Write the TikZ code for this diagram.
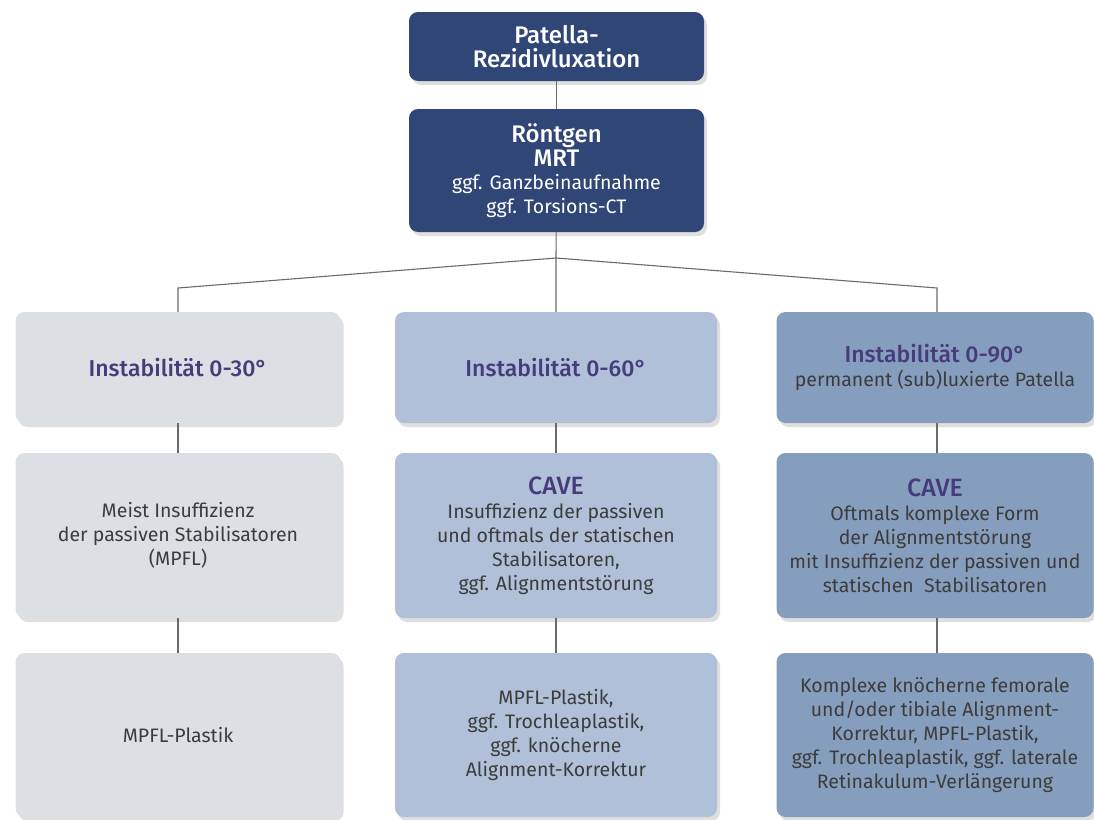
\documentclass[tikz,border=0pt]{standalone}
\usepackage{fontspec}
\setmainfont{Fira Sans}
\newfontfamily\medfam{Fira Sans Medium}
\usetikzlibrary{shadows}
\definecolor{navy}{HTML}{2F4677}
\definecolor{paleg}{HTML}{DCE0E4}
\definecolor{paleb}{HTML}{B0C0D8}
\definecolor{steel}{HTML}{859EBE}
\definecolor{titlecol}{HTML}{463C7C}
\definecolor{bodycol}{HTML}{3C3C3C}
\definecolor{linecol}{HTML}{6A6A6A}
\newcommand{\headfont}{\medfam\fontsize{24}{23.5}\selectfont}
\newcommand{\subfont}{\normalfont\fontsize{19.5}{23.5}\selectfont}
\newcommand{\titlefont}{\medfam\fontsize{23}{25}\selectfont\color{titlecol}}
\newcommand{\cavefont}{\medfam\fontsize{25}{25}\selectfont\color{titlecol}}
\newcommand{\bodyfont}{\fontsize{19.5}{24}\selectfont}

\begin{document}
\begin{tikzpicture}[x=1pt,y=-1pt]
\tikzstyle{box}=[rounded corners=9pt,align=center,inner sep=2pt,drop shadow={opacity=0.25,shadow xshift=3pt,shadow yshift=-4pt}]
\tikzstyle{navybox}=[box,fill=navy,text=white,minimum width=295pt,font=\headfont]
\tikzstyle{greybox}=[box,fill=paleg,text=bodycol,minimum width=325pt,font=\bodyfont]
\tikzstyle{lightbox}=[box,fill=paleb,text=bodycol,minimum width=322pt,font=\bodyfont]
\tikzstyle{steelbox}=[box,fill=steel,text=bodycol,minimum width=317pt,font=\bodyfont]
\tikzstyle{conn}=[draw=linecol,line width=1.1pt]
\useasboundingbox (0,0) rectangle (1094,819);
% top
\node[navybox,minimum height=69pt] (P) at (556.5,46.5) {Patella-\\Rezidivluxation};
\node[navybox,minimum height=123pt] (R) at (556.5,170.5) {Röntgen\\MRT\\\subfont ggf. Ganzbeinaufnahme\\\subfont ggf. Torsions-CT};
% row 1
\node[greybox,minimum height=111pt] (I_1) at (178,367.5) {\titlefont Instabilität 0-30°};
\node[lightbox,minimum height=111pt] (I_2) at (556,367.5) {\titlefont Instabilität 0-60°};
\node[steelbox,minimum height=111pt] (I_3) at (935,367.5) {\titlefont Instabilität 0-90°\\permanent (sub)luxierte Patella};
% row 2
\node[greybox,minimum height=165pt] (D_1) at (178,535.5) {Meist Insuffizienz\\der passiven Stabilisatoren\\(MPFL)};
\node[lightbox,minimum height=165pt] (D_2) at (556,535.5) {\cavefont CAVE\\Insuffizienz der passiven\\und oftmals der statischen\\Stabilisatoren,\\ggf. Alignmentstörung};
\node[steelbox,minimum height=165pt] (D_3) at (935,535.5) {\cavefont CAVE\\Oftmals komplexe Form\\der Alignmentstörung\\mit Insuffizienz der passiven und\\statischen\ \ Stabilisatoren};
% row 3
\node[greybox,minimum height=164pt] (T_1) at (178,735) {MPFL-Plastik};
\node[lightbox,minimum height=164pt] (T_2) at (556,735) {MPFL-Plastik,\\ggf. Trochleaplastik,\\ggf. knöcherne\\Alignment-Korrektur};
\node[steelbox,minimum height=164pt] (T_3) at (935,735) {Komplexe knöcherne femorale\\und/oder tibiale Alignment-\\Korrektur, MPFL-Plastik,\\ggf. Trochleaplastik, ggf. laterale\\Retinakulum-Verlängerung};
% connectors
\coordinate (fork) at (556,258);
\coordinate (fork_1) at (178,288);
\coordinate (fork_3) at (937,288);
\draw[conn] (P) -- (R);
\draw[conn] (R) -- (fork) -- (I_2);
\draw[conn] (fork) -- (fork_1) -- (I_1.north -| fork_1);
\draw[conn] (fork) -- (fork_3) -- (I_3.north -| fork_3);
\draw[conn] (I_1) -- (D_1);
\draw[conn] (I_2) -- (D_2);
\draw[conn] (I_3.south -| fork_3) -- (D_3.north -| fork_3);
\draw[conn] (D_1) -- (T_1);
\draw[conn] (D_2) -- (T_2);
\draw[conn] (D_3.south -| fork_3) -- (T_3.north -| fork_3);
\end{tikzpicture}
\end{document}
